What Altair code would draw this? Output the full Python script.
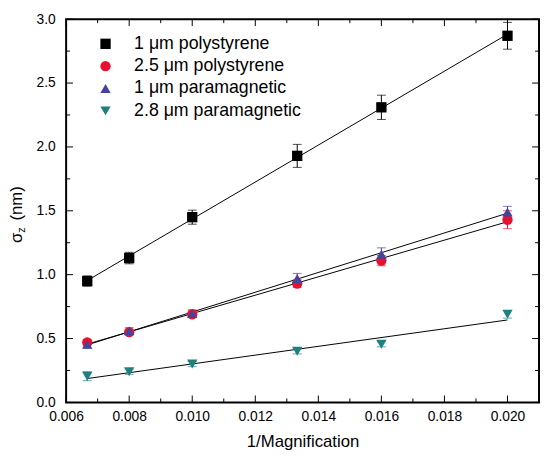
import altair as alt
import pandas as pd

# ---- data ----
inv_mag = [0.00667, 0.008, 0.010, 0.01333, 0.016, 0.020]
series_names = ["1 μm polystyrene", "2.5 μm polystyrene", "1 μm paramagnetic", "2.8 μm paramagnetic"]
ps1 = [0.95, 1.13, 1.45, 1.93, 2.31, 2.87]
ps1_err = [0.04, 0.045, 0.055, 0.09, 0.095, 0.105]
ps25 = [0.47, 0.55, 0.69, 0.93, 1.11, 1.43]
ps25_err = [0.02, 0.02, 0.025, 0.03, 0.04, 0.07]
pm1 = [0.455, 0.56, 0.695, 0.97, 1.16, 1.49]
pm1_err = [0.03, 0.025, 0.03, 0.04, 0.05, 0.045]
pm28 = [0.205, 0.24, 0.30, 0.40, 0.455, 0.69]
pm28_err = [0.035, 0.02, 0.02, 0.02, 0.02, 0.03]

x_major = [0.006, 0.008, 0.010, 0.012, 0.014, 0.016, 0.018, 0.020]
x_minor = [0.007, 0.009, 0.011, 0.013, 0.015, 0.017, 0.019]
y_major = [0.0, 0.5, 1.0, 1.5, 2.0, 2.5, 3.0]
y_minor = [0.25, 0.75, 1.25, 1.75, 2.25, 2.75]

colors = ["#000000", "#e8102f", "#47429a", "#1f8080"]
shapes = ["square", "circle", "triangle-up", "triangle-down"]
marker_sizes = [110, 110, 140, 140]

rows = []
for name, vals, errs in zip(series_names, [ps1, ps25, pm1, pm28],
                            [ps1_err, ps25_err, pm1_err, pm28_err]):
    for xv, yv, ev in zip(inv_mag, vals, errs):
        rows.append({"x": xv, "y": yv, "lo": yv - ev, "hi": yv + ev, "series": name})
df = pd.DataFrame(rows)

W, H = 480, 389
FONT = "Liberation Sans"

xscale = alt.Scale(domain=[0.006, 0.021], nice=False, zero=False)
yscale = alt.Scale(domain=[0, 3], nice=False, zero=False)

legend = alt.Legend(title=None, orient="none", legendX=31, legendY=16,
                    labelFontSize=18, labelFont=FONT, labelColor="black", labelLimit=400,
                    symbolSize=110, symbolStrokeWidth=0, symbolOpacity=1, labelOffset=20,
                    rowPadding=4.7, padding=0, symbolOffset=0)
color = alt.Color("series:N", scale=alt.Scale(domain=series_names, range=colors), legend=legend)
shape = alt.Shape("series:N", scale=alt.Scale(domain=series_names, range=shapes), legend=legend)
size = alt.Size("series:N", scale=alt.Scale(domain=series_names, range=marker_sizes), legend=None)

x_axis = alt.Axis(title="1/Magnification", values=x_major, format=".3f", labelFlush=False,
                  labelFontSize=14, labelFont=FONT, labelColor="black", labelPadding=7,
                  titleFontSize=17, titleFont=FONT, titleFontWeight="normal",
                  titleColor="black", titlePadding=11)
y_axis = alt.Axis(title=None, values=y_major, format=".1f", labelFlush=False,
                  labelFontSize=14, labelFont=FONT, labelColor="black", labelPadding=11)


def X(field):
    return alt.X(field, type="quantitative", scale=xscale, axis=x_axis)


def Y(field):
    return alt.Y(field, type="quantitative", scale=yscale, axis=y_axis)


base = alt.Chart(df)

fits = base.transform_regression("x", "y", groupby=["series"], method="linear").mark_line(
    color="black", strokeWidth=1).encode(x=X("x"), y=Y("y"), detail="series:N")

err_rule = base.mark_rule(strokeWidth=1).encode(x=X("x"), y=Y("lo"), y2="hi:Q", color=color)
cap_lo = base.mark_tick(orient="horizontal", size=9, thickness=1).encode(
    x=X("x"), y=Y("lo"), color=color)
cap_hi = base.mark_tick(orient="horizontal", size=9, thickness=1).encode(
    x=X("x"), y=Y("hi"), color=color)

points = base.mark_point(filled=True, opacity=1).encode(
    x=X("x"), y=Y("y"), color=color, shape=shape, size=size)


# inward ticks on all four sides
def xticks(vals, length):
    d = alt.Chart(pd.DataFrame({"x": vals}))
    bot = d.mark_rule(color="black", strokeWidth=1).encode(
        x=X("x"), y=alt.value(H), y2=alt.value(H - length))
    top = d.mark_rule(color="black", strokeWidth=1).encode(
        x=X("x"), y=alt.value(0), y2=alt.value(length))
    return bot + top


def yticks(vals, length):
    d = alt.Chart(pd.DataFrame({"y": vals}))
    left = d.mark_rule(color="black", strokeWidth=1).encode(
        y=Y("y"), x=alt.value(0), x2=alt.value(length))
    right = d.mark_rule(color="black", strokeWidth=1).encode(
        y=Y("y"), x=alt.value(W), x2=alt.value(W - length))
    return left + right


ticks = xticks(x_major, 7) + xticks(x_minor, 4) + yticks(y_major, 7) + yticks(y_minor, 4)

# y-axis title with subscript
title_df = pd.DataFrame({"t": ["σ"], "s": ["z"], "u": ["(nm)"]})
tb = alt.Chart(title_df)
t_sigma = tb.mark_text(angle=270, fontSize=17, font=FONT, align="center", baseline="alphabetic",
                       color="black").encode(text="t:N", x=alt.value(-45), y=alt.value(222))
t_sub = tb.mark_text(angle=270, fontSize=11, font=FONT, align="center", baseline="alphabetic",
                     color="black").encode(text="s:N", x=alt.value(-42), y=alt.value(214))
t_unit = tb.mark_text(angle=270, fontSize=17, font=FONT, align="center", baseline="alphabetic",
                      color="black").encode(text="u:N", x=alt.value(-45), y=alt.value(187))

chart = alt.layer(ticks, fits, err_rule, cap_lo, cap_hi, points, t_sigma, t_sub, t_unit).properties(
    width=W, height=H,
    background="white",
    autosize=alt.AutoSizeParams(type="none"),
    padding={"left": 59, "top": 8, "right": 1, "bottom": 48},
).configure_view(stroke="black", strokeWidth=2).configure_axis(
    domain=False, ticks=False, tickSize=0, grid=False)

chart.save("out.html", embed_options={"renderer": "svg", "actions": False})
